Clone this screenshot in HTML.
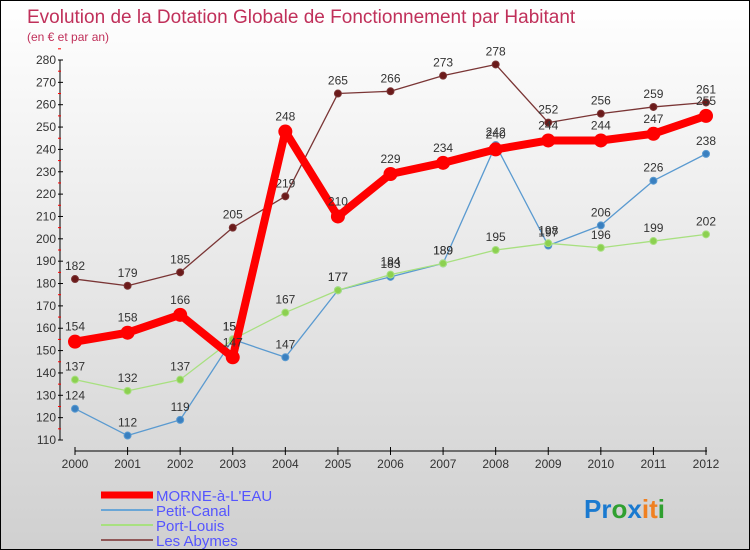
<!DOCTYPE html>
<html><head><meta charset="utf-8"><style>
body{margin:0}
#c{width:750px;height:550px;position:relative;box-sizing:border-box;border:1px solid #000;background:linear-gradient(#fff,#d0d0d0);font-family:"Liberation Sans",sans-serif;overflow:hidden}
</style></head><body>
<div id="c">
<svg id="s" width="748" height="548"></svg>
</div>
<script>
const years=[2000,2001,2002,2003,2004,2005,2006,2007,2008,2009,2010,2011,2012];
const morne=[154,158,166,147,248,210,229,234,240,244,244,247,255];
const petit=[124,112,119,155,147,177,183,189,242,197,206,226,238];
const port=[137,132,137,155,167,177,184,189,195,198,196,199,202];
const abymes=[182,179,185,205,219,265,266,273,278,252,256,259,261];
const yTicks=[110,120,130,140,150,160,170,180,190,200,210,220,230,240,250,260,270,280];
const s=document.getElementById('s');const NS='http://www.w3.org/2000/svg';
function X(i){return 74+i*(705-74)/12}
function Y(v){return 439-(v-110)*(380/170)}
function el(t,a,txt,name,parent){const e=document.createElementNS(NS,t);for(const k in a)e.setAttribute(k,a[k]);if(txt!=null)e.textContent=txt;


(parent||s).appendChild(e);return e}
el('text',{x:26,y:22,'font-size':19,fill:'#c0305a'},'Evolution de la Dotation Globale de Fonctionnement par Habitant','title');
el('text',{x:26,y:40,'font-size':12,fill:'#c0305a'},'(en € et par an)','subtitle');
el('line',{x1:59,y1:Y(280),x2:59,y2:Y(110),stroke:'#000'},null,'y-axis');
yTicks.forEach(v=>{el('line',{x1:57,x2:62,y1:Y(v),y2:Y(v),stroke:'#000'},null,'y-tick');
el('line',{x1:57,x2:60,y1:Y(v+5),y2:Y(v+5),stroke:'#f00'},null,'y-minor-tick');
el('text',{x:55,y:Y(v)+4,'font-size':12,'text-anchor':'end',fill:'#333'},v,'y-tick-label')});
el('line',{x1:74,x2:706,y1:450,y2:450,stroke:'#000'},null,'x-axis');
years.forEach((y,i)=>{el('line',{x1:X(i),x2:X(i),y1:446,y2:454,stroke:'#000'},null,'x-tick');
el('text',{x:X(i),y:467,'font-size':12,'text-anchor':'middle',fill:'#333'},y,'x-tick-label')});
function series(d,col,w,r,name,dot){
el('polyline',{points:d.map((v,i)=>X(i)+','+Y(v)).join(' '),fill:'none',stroke:col,'stroke-width':w,'stroke-linejoin':'round'},null,name+'-line');
d.forEach((v,i)=>{el('circle',{cx:X(i),cy:Y(v),r:r,fill:dot,stroke:col,'stroke-width':r>5?0:1},null,name+'-point');
el('text',{x:X(i),y:Y(v)-9-(r>5?2:0),'font-size':12,'text-anchor':'middle',fill:'#333'},v,name+'-value')});}
series(abymes,'#7a3535',1.3,3.5,'les-abymes','#6b1a1a');
series(petit,'#5a9ad0',1.3,3.5,'petit-canal','#3a80c0');
series(port,'#a8e080',1.3,3.5,'port-louis','#8cd050');
series(morne,'#f00',8,7,'morne-a-l-eau','#f00');
const leg=[['MORNE-à-L\'EAU','#f00',7],['Petit-Canal','#6aa6d6',2],['Port-Louis','#a8e080',2],['Les Abymes','#905858',2]];
leg.forEach((l,i)=>{const y=494+i*15;el('line',{x1:100,x2:152,y1:y,y2:y,stroke:l[1],'stroke-width':l[2]},null,'legend-swatch');
el('text',{x:155,y:y+6,'font-size':15,fill:'#5555ff'},l[0],'legend-entry')});
const logo=el('text',{x:583,y:517,'font-size':26,'font-weight':'bold'},null,'logo');
[['P','#1a7ad0'],['r','#1a7ad0'],['o','#30a030'],['x','#1a7ad0'],['i','#f08020'],['t','#f08020'],['i','#30a030']].forEach(p=>{el('tspan',{fill:p[1]},p[0],'logo-letter',logo)});
</script>
</body></html>
